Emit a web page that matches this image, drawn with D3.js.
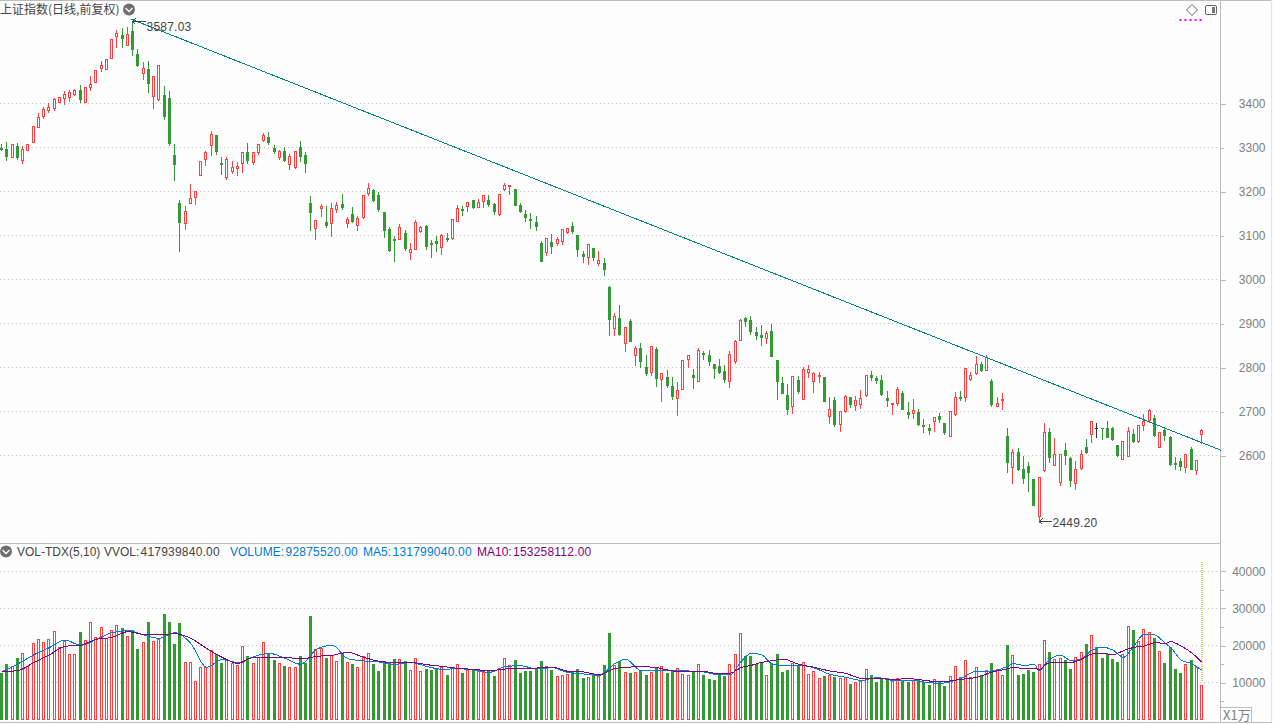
<!DOCTYPE html>
<html><head><meta charset="utf-8">
<script src="https://d3js.org/d3.v7.min.js"></script>
<style>html,body{margin:0;padding:0;background:#fdfdfd;overflow:hidden}svg{display:block}
text{font-family:"Liberation Sans",Arial,sans-serif;font-size:12px}</style></head><body>
<div id="chart"></div>
<script>
const opens=[3298,3296,3277,3303,3271,3295,3313,3347,3370,3385,
3390,3404,3413,3414,3421,3430,3402,3438,3449,3481,
3477,3504,3552,3555,3533,3564,3512,3470,3478,3417,
3410,3419,3411,3283,3174,3127,3174,3188,3236,3274,
3306,3328,3264,3233,3247,3254,3265,3289,3267,3290,
3317,3324,3298,3277,3292,3263,3255,3301,3283,3174,
3117,3163,3130,3127,3160,3171,3129,3149,3124,3142,
3196,3203,3192,3153,3114,3092,3092,3105,3063,3070,
3110,3121,3083,3087,3074,3094,3094,3133,3160,3167,
3180,3165,3179,3180,3171,3149,3205,3211,3205,3169,
3149,3137,3130,3083,3061,3085,3083,3087,3108,3121,
3101,3058,3051,3071,3038,3037,2983,2890,2912,2856,
2905,2829,2844,2801,2790,2842,2774,2778,2758,2731,
2751,2820,2783,2770,2833,2828,2808,2803,2792,2770,
2815,2863,2912,2908,2880,2873,2867,2883,2817,2764,
2737,2711,2771,2729,2790,2769,2781,2778,2690,2726,
2672,2700,2733,2715,2717,2736,2783,2776,2771,2730,
2716,2720,2742,2698,2697,2699,2669,2662,2679,2689,
2673,2645,2695,2733,2733,2774,2786,2808,2795,2769,
2713,2725,2644,2574,2607,2569,2576,2546,2461,2566,
2653,2579,2540,2612,2594,2537,2571,2619,2649,2662,
2662,2662,2662,2623,2592,2599,2648,2632,2670,2680,
2685,2620,2658,2642,2583,2587,2574,2614,2566,2648];
const closes=[3296,3281,3307,3277,3296,3307,3348,3368,3386,3391,
3409,3414,3421,3425,3430,3410,3436,3444,3475,3487,
3500,3546,3559,3549,3557,3524,3487,3480,3446,3461,
3486,3372,3309,3263,3131,3155,3184,3200,3268,3289,
3330,3292,3261,3274,3255,3258,3289,3271,3289,3307,
3328,3311,3292,3292,3271,3280,3291,3281,3265,3153,
3134,3166,3123,3162,3169,3165,3136,3133,3139,3191,
3208,3180,3159,3112,3067,3090,3118,3071,3068,3130,
3119,3076,3081,3083,3101,3092,3136,3162,3158,3175,
3164,3175,3191,3171,3155,3194,3214,3214,3169,3155,
3142,3135,3121,3042,3095,3076,3091,3114,3116,3110,
3069,3053,3080,3051,3043,3024,2910,2916,2876,2891,
2860,2845,2814,2787,2848,2776,2786,2760,2735,2748,
2816,2827,2778,2839,2831,2814,2798,2789,2773,2830,
2859,2908,2905,2883,2873,2869,2877,2826,2769,2742,
2705,2780,2746,2796,2796,2786,2783,2724,2705,2671,
2700,2734,2717,2725,2730,2782,2778,2771,2739,2726,
2720,2750,2705,2695,2702,2671,2667,2658,2686,2683,
2653,2700,2732,2730,2798,2782,2807,2794,2823,2717,
2720,2727,2585,2607,2569,2548,2562,2487,2551,2654,
2596,2604,2604,2601,2544,2568,2602,2608,2677,2662,
2661,2642,2637,2601,2632,2655,2632,2669,2678,2704,
2646,2652,2646,2580,2580,2576,2602,2569,2589,2657];
const highs=[3308,3312,3307,3309,3303,3307,3348,3377,3391,3400,
3411,3414,3428,3430,3433,3442,3436,3462,3475,3496,
3500,3546,3567,3571,3573,3587.03,3524,3494,3496,3461,
3486,3439,3427,3308,3180,3167,3217,3200,3268,3292,
3336,3328,3277,3277,3268,3266,3290,3309,3289,3307,
3333,3335,3305,3295,3301,3284,3291,3314,3289,3189,
3134,3171,3167,3174,3175,3194,3142,3164,3144,3191,
3219,3205,3198,3153,3119,3098,3126,3112,3083,3135,
3121,3123,3089,3098,3103,3105,3136,3169,3167,3175,
3180,3183,3192,3192,3173,3194,3219,3214,3205,3173,
3158,3151,3144,3087,3095,3103,3096,3114,3117,3130,
3101,3064,3080,3071,3064,3049,2985,2923,2942,2891,
2910,2848,2855,2828,2848,2846,2786,2794,2778,2767,
2816,2827,2796,2844,2837,2839,2808,2819,2805,2837,
2861,2910,2914,2917,2892,2896,2883,2899,2817,2778,
2762,2780,2780,2801,2805,2789,2789,2778,2733,2733,
2700,2737,2733,2735,2748,2782,2792,2780,2783,2746,
2720,2755,2746,2721,2728,2705,2683,2671,2687,2696,
2673,2700,2744,2746,2798,2789,2826,2812,2828,2773,
2733,2742,2662,2614,2617,2598,2585,2546,2551,2673,
2662,2639,2604,2628,2596,2587,2612,2637,2677,2673,
2662,2678,2664,2623,2632,2664,2660,2669,2694,2705,
2692,2652,2662,2644,2596,2594,2603,2619,2589,2660];
const lows=[3294,3271,3277,3273,3265,3295,3313,3347,3367,3380,
3385,3404,3399,3405,3419,3404,3402,3430,3449,3473,
3477,3504,3529,3528,3533,3510,3485,3455,3426,3389,
3408,3365,3305,3226,3065,3114,3174,3171,3236,3260,
3283,3284,3239,3228,3242,3237,3244,3265,3262,3285,
3314,3308,3288,3274,3268,3251,3253,3268,3244,3112,
3092,3144,3120,3099,3154,3160,3119,3130,3112,3139,
3192,3178,3155,3096,3064,3042,3092,3067,3046,3069,
3108,3069,3051,3064,3058,3087,3092,3133,3146,3155,
3162,3164,3164,3167,3149,3146,3203,3194,3169,3153,
3133,3117,3112,3042,3055,3060,3078,3080,3105,3105,
3053,3039,3035,3044,3033,3010,2873,2873,2873,2837,
2860,2805,2800,2783,2783,2758,2723,2755,2728,2692,
2751,2800,2753,2769,2819,2805,2776,2787,2767,2755,
2810,2862,2894,2876,2864,2851,2855,2826,2728,2742,
2694,2696,2742,2728,2778,2744,2767,2724,2673,2667,
2655,2698,2710,2703,2708,2735,2771,2764,2737,2712,
2694,2714,2705,2685,2685,2669,2653,2648,2655,2676,
2648,2644,2692,2726,2723,2771,2785,2792,2794,2712,
2712,2705,2562,2537,2567,2537,2519,2487,2449.2,2565,
2585,2578,2533,2580,2530,2523,2569,2605,2630,2642,
2637,2642,2635,2598,2592,2598,2630,2631,2658,2676,
2644,2619,2635,2578,2569,2567,2562,2569,2557,2629];
const volumes=[12589,14918,14291,16531,17786,14381,20474,21549,20742,21549,
23699,19398,21011,17517,17517,23430,21280,26118,22086,24774,
21818,24058,25312,24506,22445,24058,18950,20742,26118,21101,
21549,28269,26208,20205,25939,15456,15456,10259,14022,14022,
18682,17606,15187,16173,15187,14650,19667,16979,15187,16800,
20742,17786,15994,15187,14291,14112,14112,16979,15098,27821,
18861,19130,16531,17248,15635,17786,15366,14918,14022,16979,
17786,14918,13037,15635,15098,16173,16173,15635,13216,16442,
12947,13574,13306,13574,14022,11962,14022,14829,12499,13216,
13485,12947,12768,12947,11693,13754,16442,14560,15994,12499,
13037,13037,13485,15725,14291,13306,11603,11872,12141,13037,
13485,11155,11334,11962,11603,14650,23251,14560,15635,12678,
12499,12678,13037,11962,12678,13843,14291,12499,13037,13754,
12230,11962,12768,14829,11962,10886,10618,11962,11693,14829,
17517,23251,17069,17069,14829,15187,11962,15187,17606,12768,
13306,15098,14650,15366,12230,12947,11155,11693,11962,11424,
11155,11334,9542,10080,10349,13485,11962,10080,11155,11155,
10349,11155,10618,10080,10618,10618,10080,9274,10797,10080,
9005,11603,14291,11334,15994,11334,14022,12051,13306,15098,
13574,11872,20026,17248,12051,12230,13306,12768,14829,21280,
18144,16262,16442,15994,13574,16710,18144,20205,22624,19398,
16621,17696,16262,15456,17517,25133,24058,21101,24237,23430,
21907,18323,15187,19398,13574,12499,15008,15994,14202,9288];
const maIndex=[0,3,6,9,12,15,18,21,24,27,30,33,36,39,42,45,48,51,54,57,60,63,66,69,72,75,78,81,84,87,90,93,96,99,102,105,108,111,114,117,119,122,125,128,131,134,137,139,141,143,145,147,149,152,155,158,161,164,167,170,173,176,179,183,186,189,192,193,195,197,198,199,200,202,204,206,208,210,212,214,216,218,220,222,223,225,227,229];
const ma5=[12858,14918,17338,19309,21370,19936,21549,23341,23878,22714,21818,23341,20474,14022,16173,15277,16890,17786,16442,14829,18861,19936,16352,15725,15456,14829,15277,14291,13485,13664,13306,12678,14202,14470,13574,13933,12589,12230,11872,15098,16173,13126,13126,13126,13037,12768,11962,12051,15546,17786,17338,14918,14470,14650,13843,12141,11334,10528,11245,10528,10528,10080,9722,11066,13037,13037,14381,15008,14560,14739,13037,14918,16173,17338,15814,16262,18682,19398,18682,16710,19757,22982,22714,20474,19398,15994,15008,13180];
const ma10=[12858,13126,15277,17338,19667,20026,21549,22086,23610,22893,22714,23072,21818,19130,16710,15098,16710,16710,16710,16262,16979,17248,18054,16710,15635,15277,15366,14739,14291,13754,13485,13126,13574,13754,13843,14112,12947,12768,12051,13754,14022,14202,13933,13037,12858,12858,12230,12410,13933,14560,15366,15814,16262,14829,14022,13037,12410,11066,11066,10797,10976,10528,10080,10797,11334,12768,13664,14022,13664,13754,13306,14650,15277,15366,15366,16173,17606,17786,17427,18502,19398,19757,20653,20474,20922,19757,17965,15326];
const priceTicks=[3400,3300,3200,3100,3000,2900,2800,2700,2600];
const volTicks=[40000,30000,20000,10000];
const volMinor=[35000,25000,15000,5000];
const trendIndex=[24.8,232.8];
const trendPrice=[3591,2611];
const maxLabel="3587.03", minLabel="2449.20";

const W=1274,H=724,BG="#fdfdfd",RED="#ff4040",GRN="#339933",GRID="#c4c4c4",AX="#bdbdbd",TXT="#808080",DK="#444";
const svg=d3.select("#chart").append("svg").attr("width",W).attr("height",H);
svg.append("rect").attr("width",W).attr("height",H).attr("fill",BG);
const x=d3.scaleLinear().domain([0,229]).range([1.6,1201.56]);
const yP=d3.scaleLinear().domain([3400,2600]).range([103.3,455.3]);
const yV=d3.scaleLinear().domain([0,40000]).range([719.5,570.7]);
const px=i=>Math.floor(x(i));
const data=opens.map((o,i)=>({i,o,c:closes[i],h:highs[i],l:lows[i],v:volumes[i]}));
const colour=d=>d.c>d.o?RED:d.c<d.o?GRN:"#333";

// frame
const crisp=svg.append("g").attr("shape-rendering","crispEdges");
[[0,.5,1272,.5],[0,543.5,1221,543.5],[0,722.5,1272,722.5],[1220.5,0,1220.5,722],[1271.5,0,1271.5,722]].forEach(l=>
 crisp.append("line").attr("x1",l[0]).attr("y1",l[1]).attr("x2",l[2]).attr("y2",l[3]).attr("stroke",l[0]==1271.5?"#e4e4e4":AX));

// grid
crisp.selectAll(".gp").data(priceTicks).join("line").attr("x1",0).attr("x2",1218)
 .attr("y1",d=>Math.round(yP(d))+.5).attr("y2",d=>Math.round(yP(d))+.5).attr("stroke",GRID).attr("stroke-dasharray","1,3");
crisp.selectAll(".gv").data(volTicks).join("line").attr("x1",0).attr("x2",1218)
 .attr("y1",d=>Math.round(yV(d))+.5).attr("y2",d=>Math.round(yV(d))+.5).attr("stroke",GRID).attr("stroke-dasharray","1,3");

// axes
function styleAxis(g){g.select(".domain").remove();g.selectAll("line").attr("stroke",AX).attr("shape-rendering","crispEdges");
 g.selectAll("text").attr("fill",TXT).attr("text-anchor","end").attr("x",45).style("font-family",'"Liberation Sans",Arial,sans-serif').style("font-size","12px");}
const fmt=d3.format("d");
svg.append("g").attr("transform","translate(1220.5,0.5)")
 .call(d3.axisRight(yP).tickValues(priceTicks).tickFormat(fmt).tickSize(3)).call(styleAxis)
 .selectAll("line").attr("x2",(d,i)=>i%2?3:5);
svg.append("g").attr("transform","translate(1220.5,0.5)")
 .call(d3.axisRight(yV).tickValues(volTicks).tickFormat(fmt).tickSize(5)).call(styleAxis);
svg.append("g").attr("transform","translate(1220.5,0.5)")
 .call(d3.axisRight(yV).tickValues(volMinor).tickFormat("").tickSize(3)).call(styleAxis);

// candles
const cg=svg.append("g").attr("shape-rendering","crispEdges");
cg.selectAll(".wick").data(data).join("line")
 .attr("x1",d=>px(d.i)+.5).attr("x2",d=>px(d.i)+.5)
 .attr("y1",d=>Math.round(yP(d.h))).attr("y2",d=>Math.round(yP(d.l))+1).attr("stroke",colour);
cg.selectAll(".body").data(data).join("rect")
 .attr("x",d=>d.c>d.o?px(d.i)-.5:px(d.i)-1)
 .attr("y",d=>{const t=Math.round(yP(Math.max(d.o,d.c)));return d.c>d.o?t+.5:t;})
 .attr("width",d=>d.c>d.o?2:3)
 .attr("height",d=>{const t=Math.round(yP(Math.max(d.o,d.c))),b=Math.round(yP(Math.min(d.o,d.c)));return Math.max(1,d.c>d.o?b-t:b-t+1);})
 .attr("fill",d=>d.c>d.o?BG:colour(d)).attr("stroke",d=>d.c>d.o?RED:"none");

// volume bars
const vg=svg.append("g").attr("shape-rendering","crispEdges");
vg.selectAll("rect").data(data).join("rect")
 .attr("x",d=>d.c>d.o?px(d.i)-.5:px(d.i)-1)
 .attr("y",d=>{const t=Math.round(yV(d.v));return d.c>d.o?t+.5:t;})
 .attr("width",d=>d.c>d.o?2:3)
 .attr("height",d=>{const t=Math.round(yV(d.v));return d.c>d.o?719-t:720-t;})
 .attr("fill",d=>d.c>d.o?BG:GRN).attr("stroke",d=>d.c>d.o?RED:"none");

// moving averages
const lineGen=vals=>d3.line().curve(d3.curveMonotoneX).x((d,k)=>x(d)+.5).y((d,k)=>yV(vals[k]));
svg.append("path").attr("d",lineGen(ma5)(maIndex)).attr("fill","none").attr("stroke","#0078d7").attr("stroke-width",1).attr("shape-rendering","crispEdges");
svg.append("path").attr("d",lineGen(ma10)(maIndex)).attr("fill","none").attr("stroke","#800080").attr("stroke-width",1).attr("shape-rendering","crispEdges");

// cursor line
svg.append("line").attr("shape-rendering","crispEdges").attr("x1",x(229)+.5).attr("x2",x(229)+.5).attr("y1",562).attr("y2",682)
 .attr("stroke","#d4d464").attr("stroke-width",2).attr("stroke-dasharray","1,1");

// trend line
svg.append("path").attr("d",d3.line().x(d=>x(d)).y((d,k)=>yP(trendPrice[k]))(trendIndex))
 .attr("fill","none").attr("stroke","#008080").attr("stroke-width",1).attr("shape-rendering","crispEdges");

// labels
const T=(t,xx,yy,fill,size,fam,ls)=>svg.append("text").attr("x",xx).attr("y",yy).attr("fill",fill).style("font-size",(size||12)+"px").style("font-family",fam||null).style("letter-spacing",(ls||0)+"px").text(t);
const NUM=.22;
T("上证指数(日线,前复权)",0,14,DK,12,'"Noto Sans CJK SC"');
function chev(cx,cy){svg.append("circle").attr("cx",cx).attr("cy",cy).attr("r",6).attr("fill","#6e6e6e");
 svg.append("path").attr("d",`M${cx-3.5} ${cy-1.5}L${cx} ${cy+2}L${cx+3.5} ${cy-1.5}`).attr("fill","none").attr("stroke","#fff").attr("stroke-width",1.3);}
chev(129,9.5); chev(6,551.5);
function arrow(x0,y0,x1){svg.append("path").attr("d",`M${x0} ${y0}H${x1}M${x0+3} ${y0-3}L${x0} ${y0}L${x0+3} ${y0+3}`).attr("fill","none").attr("stroke",DK).attr("shape-rendering","crispEdges");}
arrow(132.5,21.5,146); T(maxLabel,146.5,31,DK,12,null,NUM);
arrow(1039.5,521.5,1052); T(minLabel,1052.5,527,DK,12,null,NUM);
T("VOL-TDX(5,10)",17,555.5,DK);
T("VVOL:",104,555.5,DK); T("417939840.00",140.5,555.5,DK,12,null,NUM);
T("VOLUME:",230,555.5,"#0078d7"); T("92875520.00",285.5,555.5,"#0078d7",12,null,NUM);
T("MA5:",363,555.5,"#0078d7"); T("131799040.00",392.5,555.5,"#0078d7",12,null,NUM);
T("MA10:",477,555.5,"#800080"); T("153258112.00",513,555.5,"#800080",12,null,NUM);
// icons
svg.append("path").attr("d","M1192 4.5L1197.5 10L1192 15.5L1186.5 10Z").attr("fill","none").attr("stroke","#666");
svg.append("rect").attr("x",1205.5).attr("y",5.5).attr("width",11).attr("height",9).attr("rx",1.5).attr("fill","#fff").attr("stroke","#666");
svg.append("rect").attr("x",1212).attr("y",7).attr("width",3).attr("height",6).attr("fill","#777");
svg.append("line").attr("x1",1179.5).attr("x2",1203).attr("y1",20).attr("y2",20).attr("stroke","#ff00ff").attr("stroke-width",2).attr("stroke-dasharray","2,3");
// unit box
svg.append("rect").attr("x",1220.5).attr("y",707.5).attr("width",31).attr("height",15).attr("fill",BG).attr("stroke",AX).attr("shape-rendering","crispEdges");
T("X1万",1223,720,TXT,13,'"Noto Sans CJK SC"');
</script></body></html>
